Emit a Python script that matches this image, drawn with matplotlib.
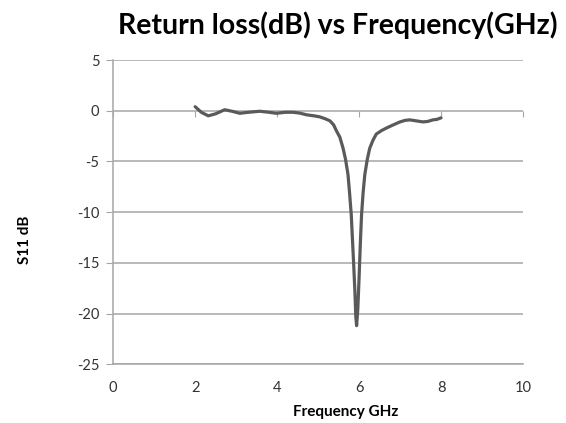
import matplotlib
matplotlib.use("Agg")
import matplotlib.pyplot as plt

freq_ghz = [2.00, 2.15, 2.32, 2.50, 2.72, 2.90, 3.09, 3.30, 3.58, 3.80, 3.98, 4.20, 4.39, 4.55,
            4.72, 4.90, 5.04, 5.18, 5.29, 5.38, 5.45, 5.53, 5.61, 5.67, 5.73, 5.77, 5.81, 5.84,
            5.87, 5.90, 5.92, 5.94, 5.97, 6.00, 6.03, 6.06, 6.10, 6.14, 6.20, 6.26, 6.34, 6.42,
            6.55, 6.67, 6.83, 7.00, 7.12, 7.24, 7.40, 7.56, 7.68, 7.80, 7.90, 8.00]
s11_db = [0.40, -0.15, -0.50, -0.30, 0.10, -0.05, -0.25, -0.15, -0.05, -0.15, -0.25, -0.15, -0.15, -0.23,
          -0.40, -0.50, -0.60, -0.80, -1.00, -1.40, -2.00, -2.60, -3.70, -4.80, -6.30, -8.20, -10.3, -12.8,
          -15.3, -18.0, -20.3, -21.2, -19.5, -16.5, -13.2, -10.3, -8.0, -6.3, -4.8, -3.7, -2.9, -2.3,
          -1.95, -1.70, -1.40, -1.10, -0.95, -0.90, -1.00, -1.10, -1.05, -0.90, -0.85, -0.70]

xticks = [0, 2, 4, 6, 8, 10]
yticks = [5, 0, -5, -10, -15, -20, -25]

plt.rcParams['font.family'] = ['Lato', 'DejaVu Sans']
plt.rcParams['axes.unicode_minus'] = False

fig = plt.figure(figsize=(5.66, 4.23), dpi=100)
ax = fig.add_axes([0.200, 0.139, 0.724, 0.719])

grid_c = '#a6a6a6'
ax.set_xlim(0, 10)
ax.set_ylim(-25, 5)
ax.set_xticks(xticks)
ax.set_yticks(yticks)
ax.yaxis.grid(True, color=grid_c, linewidth=1.1)
ax.set_axisbelow(True)
for s in ['top', 'right']:
    ax.spines[s].set_visible(False)
ax.spines['left'].set_color(grid_c)
ax.spines['bottom'].set_color(grid_c)
ax.spines['left'].set_linewidth(1.1)
ax.spines['bottom'].set_linewidth(1.1)
ax.tick_params(axis='y', length=5, color=grid_c, labelsize=10.5, labelcolor='#333333', pad=5)
ax.tick_params(axis='x', length=0, labelsize=10.5, labelcolor='#333333', pad=12)

sec = ax.secondary_xaxis(25 / 30)
sec.set_xticks(xticks)
sec.tick_params(axis='x', direction='out', length=4, color=grid_c, labelbottom=False, labeltop=False)
sec.spines['bottom'].set_color(grid_c)
sec.spines['top'].set_visible(False)
sec.xaxis.set_ticks_position('bottom')
sec.tick_params(labelbottom=False)

ax.plot(freq_ghz, s11_db, color='#5a5a5a', linewidth=2.3, solid_capstyle='round',
        solid_joinstyle='round', zorder=3)

fig.text(0.596, 0.94, 'Return loss(dB) vs Frequency(GHz)', ha='center', va='center',
         fontsize=20.5, fontweight='bold', color='#000000')
fig.text(0.61, 0.026, 'Frequency GHz', ha='center', va='center', fontsize=11,
         fontweight='bold')
fig.text(0.044, 0.433, 'S11 dB', rotation=90, ha='center', va='center', fontsize=11,
         fontweight='bold')

fig.savefig('out.png', dpi=100)
